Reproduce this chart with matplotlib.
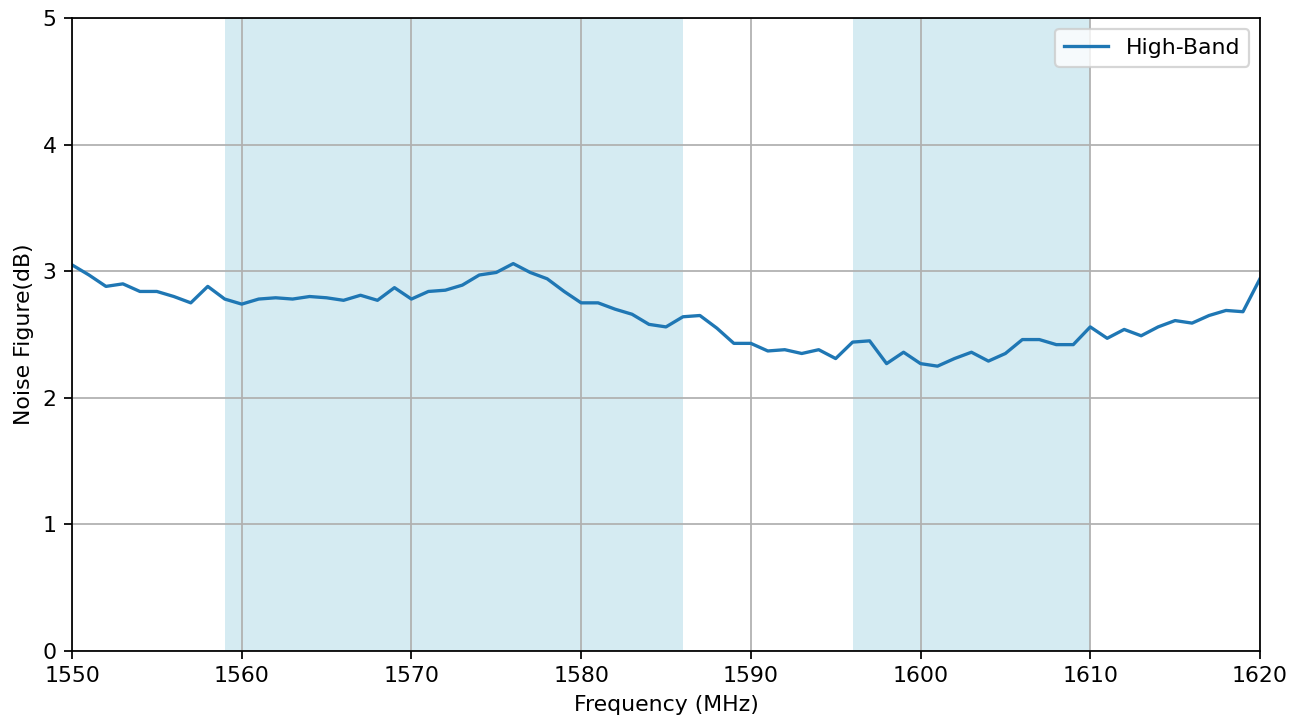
import numpy as np
import matplotlib
matplotlib.use("Agg")
import matplotlib.pyplot as plt

# measured noise figure, 1 MHz steps
freq_mhz = np.arange(1550, 1621)
nf_db = [
    3.05, 2.97, 2.88, 2.90, 2.84, 2.84, 2.80, 2.75, 2.88, 2.78,
    2.74, 2.78, 2.79, 2.78, 2.80, 2.79, 2.77, 2.81, 2.77, 2.87,
    2.78, 2.84, 2.85, 2.89, 2.97, 2.99, 3.06, 2.99, 2.94, 2.84,
    2.75, 2.75, 2.70, 2.66, 2.58, 2.56, 2.64, 2.65, 2.55, 2.43,
    2.43, 2.37, 2.38, 2.35, 2.38, 2.31, 2.44, 2.45, 2.27, 2.36,
    2.27, 2.25, 2.31, 2.36, 2.29, 2.35, 2.46, 2.46, 2.42, 2.42,
    2.56, 2.47, 2.54, 2.49, 2.56, 2.61, 2.59, 2.65, 2.69, 2.68,
    2.94,
]
bands = [(1559, 1586), (1596, 1610)]

dpi = 158.5
fig, ax = plt.subplots(figsize=(1302 / dpi, 722 / dpi), dpi=dpi)
fig.subplots_adjust(left=0.0553, right=0.9677, top=0.9751, bottom=0.0983)

for lo, hi in bands:
    ax.axvspan(lo, hi, color="lightblue", alpha=0.5, lw=0)

ax.plot(freq_mhz, nf_db, color="#1f77b4", lw=1.5, label="High-Band")
ax.set_xlim(1550, 1620)
ax.set_ylim(0, 5)
ax.set_xlabel("Frequency (MHz)")
ax.set_ylabel("Noise Figure(dB)")
ax.grid(True)
ax.legend(loc="upper right")

fig.savefig("out.png", dpi=dpi)
